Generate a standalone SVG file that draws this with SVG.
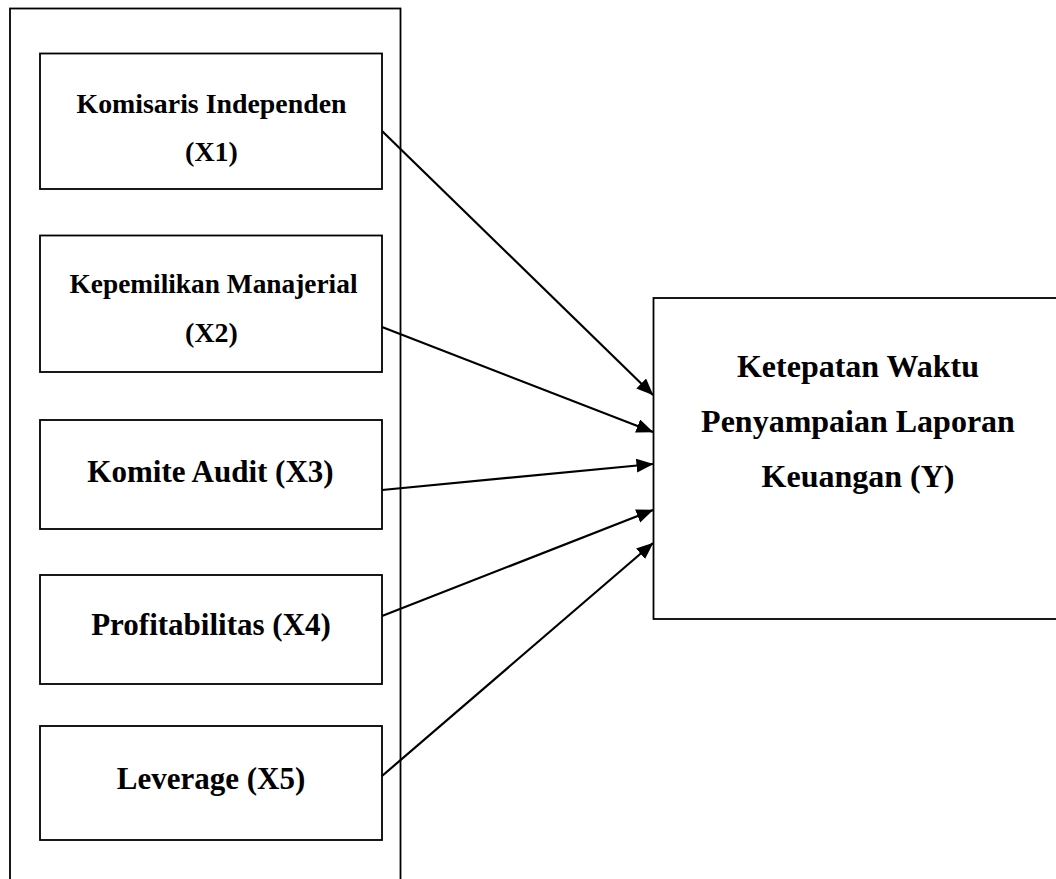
<svg xmlns="http://www.w3.org/2000/svg" width="1056" height="879" viewBox="0 0 1056 879">
  <style>
    .box { fill: #ffffff; stroke: #000000; stroke-width: 1.8; }
    .lbl { font-family: "Liberation Serif", "Times New Roman", serif; font-weight: bold; fill: #000000; text-anchor: middle; }
    .sm { font-size: 28px; }
    .lg { font-size: 31px; }
    .yl { font-size: 32px; }
    .conn { stroke: #000000; stroke-width: 2.2; fill: none; marker-end: url(#arrow); }
  </style>
  <defs>
    <marker id="arrow" markerUnits="userSpaceOnUse" markerWidth="18" markerHeight="15" refX="16.5" refY="7" orient="auto">
      <path d="M0,0 L17,7 L0,14 Z" fill="#000000"/>
    </marker>
  </defs>
  <rect width="1056" height="879" fill="#ffffff"/>
  <g id="outer">
    <rect class="box" x="10" y="8.5" width="390.5" height="880"/>
  </g>
  <g id="x1">
    <rect class="box" x="40" y="53.5" width="342" height="135.5"/>
    <text class="lbl sm" x="211.5" y="113" textLength="270" lengthAdjust="spacingAndGlyphs">Komisaris Independen</text>
    <text class="lbl sm" x="211.5" y="160.5">(X1)</text>
  </g>
  <g id="x2">
    <rect class="box" x="40" y="235.5" width="342" height="136.5"/>
    <text class="lbl sm" x="213.5" y="293" textLength="288" lengthAdjust="spacingAndGlyphs">Kepemilikan Manajerial</text>
    <text class="lbl sm" x="211.5" y="341.5">(X2)</text>
  </g>
  <g id="x3">
    <rect class="box" x="40" y="420" width="342" height="109"/>
    <text class="lbl lg" x="210.5" y="482">Komite Audit (X3)</text>
  </g>
  <g id="x4">
    <rect class="box" x="40" y="575" width="342" height="109"/>
    <text class="lbl lg" x="211" y="635">Profitabilitas (X4)</text>
  </g>
  <g id="x5">
    <rect class="box" x="40" y="726" width="342" height="114"/>
    <text class="lbl lg" x="211" y="788.5">Leverage (X5)</text>
  </g>
  <g id="y">
    <rect class="box" x="653.5" y="298" width="412" height="321"/>
    <text class="lbl yl" x="858" y="377">Ketepatan Waktu</text>
    <text class="lbl yl" x="858" y="432">Penyampaian Laporan</text>
    <text class="lbl yl" x="858" y="487">Keuangan (Y)</text>
  </g>
  <g id="connectors">
    <line class="conn" x1="382" y1="131" x2="653" y2="395"/>
    <line class="conn" x1="382" y1="327" x2="653" y2="432"/>
    <line class="conn" x1="382" y1="490" x2="653" y2="464"/>
    <line class="conn" x1="382" y1="616" x2="653" y2="510"/>
    <line class="conn" x1="382" y1="776" x2="653" y2="543"/>
  </g>
</svg>
